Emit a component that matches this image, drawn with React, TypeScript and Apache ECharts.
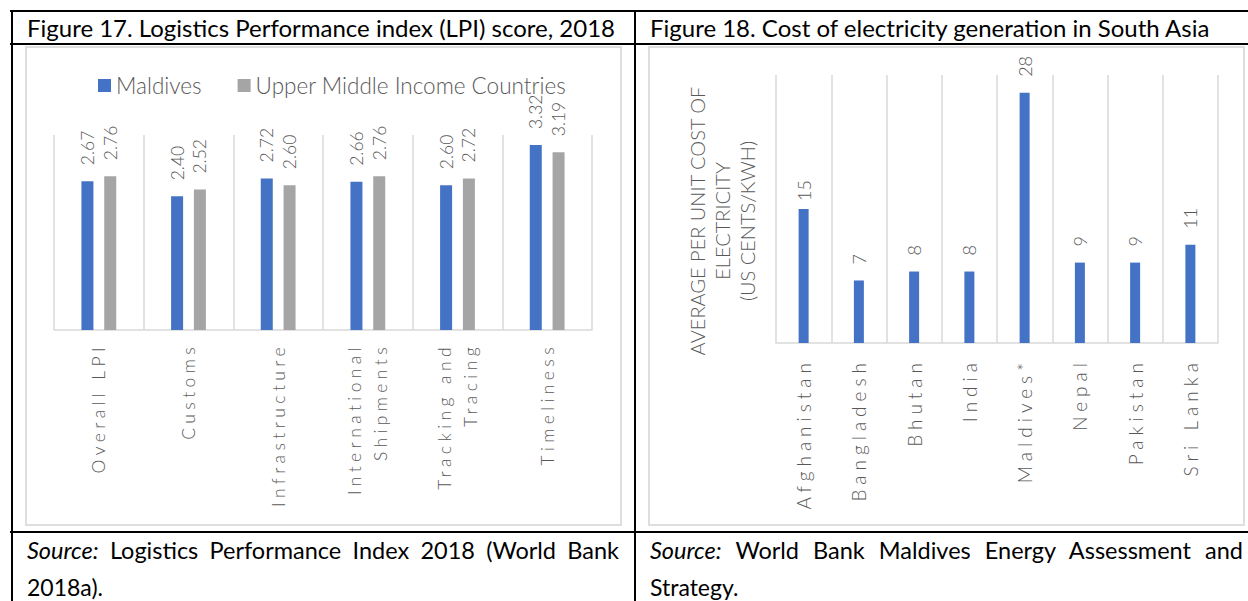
import React, { useEffect, useRef } from "react";
import * as echarts from "echarts";

// ---------- data ----------
const lpiCategories = [
  "Overall LPI",
  "Customs",
  "Infrastructure",
  "International\nShipments",
  "Tracking and\nTracing",
  "Timeliness",
];
const lpiSeriesNames = ["Maldives", "Upper Middle Income Countries"];
const maldivesLpi = [2.67, 2.4, 2.72, 2.66, 2.6, 3.32];
const umicLpi = [2.76, 2.52, 2.6, 2.76, 2.72, 3.19];

const countries = ["Afghanistan", "Bangladesh", "Bhutan", "India", "Maldives*", "Nepal", "Pakistan", "Sri Lanka"];
const electricityCost = [15, 7, 8, 8, 28, 9, 9, 11];
const costAxisTitle = "AVERAGE PER UNIT COST OF\nELECTRICITY\n(US CENTS/KWH)";

const title17 = "Figure 17. Logistics Performance index (LPI) score, 2018";
const title18 = "Figure 18. Cost of electricity generation in South Asia";
const source17 = ["Logistics Performance Index 2018 (World Bank", "2018a)."];
const source18 = ["World Bank Maldives Energy Assessment and", "Strategy."];

// ---------- style ----------
const FONT = "Lato, 'Open Sans', sans-serif";
const TEXT_GREY = "#595959";
const GRID_GREY = "#D9D9D9";
const BLUE = "#4472C4";
const GREY = "#A5A5A5";

function spaceLabels(chart: echarts.ECharts, labels: string[], spacing: number) {
  const dom = chart.getDom();
  dom.querySelectorAll("text").forEach((t) => {
    if (labels.includes((t.textContent || "").trim())) {
      t.setAttribute("letter-spacing", String(spacing));
    }
  });
}

function LpiChart() {
  const ref = useRef<HTMLDivElement>(null);
  useEffect(() => {
    if (!ref.current) return;
    const chart = echarts.init(ref.current, undefined, { renderer: "svg" });
    const labelFmt = (p: any) => Number(p.value).toFixed(2);
    const dataLabel = {
      show: true,
      position: "top" as const,
      rotate: 90,
      align: "left" as const,
      verticalAlign: "middle" as const,
      distance: 16,
      formatter: labelFmt,
      fontSize: 17.5,
      fontFamily: FONT,
      fontWeight: 300,
      color: TEXT_GREY,
    };
    chart.setOption({
      animation: false,
      textStyle: { fontFamily: FONT },
      legend: {
        data: lpiSeriesNames,
        left: 66,
        top: 21,
        icon: "rect",
        itemWidth: 13,
        itemHeight: 13,
        itemGap: 36,
        textStyle: { fontSize: 22.5, color: TEXT_GREY, fontFamily: FONT, fontWeight: 300 },
      },
      grid: { left: 27, top: 87, width: 538, height: 195, containLabel: false },
      xAxis: {
        type: "category",
        data: lpiCategories,
        axisLine: { lineStyle: { color: GRID_GREY, width: 1.5 } },
        axisTick: { show: false },
        splitLine: { show: true, interval: 0, lineStyle: { color: GRID_GREY, width: 1.5 } },
        axisLabel: {
          interval: 0,
          rotate: 90,
          margin: 13,
          fontSize: 17.5,
          lineHeight: 26,
          color: TEXT_GREY,
          fontFamily: FONT,
          fontWeight: 300,
        },
      },
      yAxis: { type: "value", min: 0, max: 3.5, show: false, splitLine: { show: false } },
      series: [
        {
          name: lpiSeriesNames[0],
          type: "bar",
          data: maldivesLpi,
          barWidth: 12,
          barGap: "90%",
          itemStyle: { color: BLUE },
          label: dataLabel,
        },
        {
          name: lpiSeriesNames[1],
          type: "bar",
          data: umicLpi,
          barWidth: 12,
          itemStyle: { color: GREY },
          label: dataLabel,
        },
      ],
    });
    const lines = lpiCategories.flatMap((c) => c.split("\n"));
    const apply = () => spaceLabels(chart, lines, 4.4);
    apply();
    chart.on("finished", apply);
    return () => chart.dispose();
  }, []);
  return <div ref={ref} style={{ width: "100%", height: "100%" }} />;
}

function CostChart() {
  const ref = useRef<HTMLDivElement>(null);
  useEffect(() => {
    if (!ref.current) return;
    const chart = echarts.init(ref.current, undefined, { renderer: "svg" });
    chart.setOption({
      animation: false,
      textStyle: { fontFamily: FONT },
      grid: { left: 126, top: 27, width: 442, height: 268, containLabel: false },
      xAxis: {
        type: "category",
        data: countries,
        axisLine: { lineStyle: { color: GRID_GREY, width: 1.5 } },
        axisTick: { show: false },
        splitLine: { show: true, interval: 0, lineStyle: { color: GRID_GREY, width: 1.5 } },
        axisLabel: {
          interval: 0,
          rotate: 90,
          margin: 15,
          fontSize: 19,
          color: TEXT_GREY,
          fontFamily: FONT,
          fontWeight: 300,
        },
      },
      yAxis: { type: "value", min: 0, max: 30, show: false, splitLine: { show: false } },
      graphic: [
        {
          type: "text",
          x: 72,
          y: 173,
          rotation: Math.PI / 2,
          style: {
            text: costAxisTitle,
            fontSize: 20,
            lineHeight: 25,
            fontFamily: FONT,
            fontWeight: 300,
            fill: TEXT_GREY,
            align: "center",
            verticalAlign: "middle",
          },
        },
      ],
      series: [
        {
          type: "bar",
          data: electricityCost.map((v, i) =>
            i === 0 ? { value: v, label: { distance: 8 } } : v
          ),
          barWidth: 10,
          itemStyle: { color: BLUE },
          label: {
            show: true,
            position: "top",
            rotate: 90,
            align: "left",
            verticalAlign: "middle",
            distance: 16,
            fontSize: 18,
            fontFamily: FONT,
            fontWeight: 300,
            color: TEXT_GREY,
          },
        },
      ],
    });
    const apply = () => spaceLabels(chart, countries, 5);
    apply();
    chart.on("finished", apply);
    return () => chart.dispose();
  }, []);
  return <div ref={ref} style={{ width: "100%", height: "100%" }} />;
}

const abs = (l: number, t: number, w: number, h: number, extra: React.CSSProperties = {}): React.CSSProperties => ({
  position: "absolute",
  left: l,
  top: t,
  width: w,
  height: h,
  ...extra,
});

function SourceBlock({ left, width, lines }: { left: number; width: number; lines: string[] }) {
  return (
    <>
      <div
        style={abs(left, 537, width, 26, {
          fontSize: 23.5,
          lineHeight: "26px",
          textAlign: "justify",
          textAlignLast: "justify",
          whiteSpace: "nowrap",
        } as React.CSSProperties)}
      >
        <i>Source:</i> {lines[0]}
      </div>
      <div style={abs(left, 575, width, 25, { fontSize: 23, lineHeight: "25px", whiteSpace: "nowrap" })}>{lines[1]}</div>
    </>
  );
}

export default function App() {
  const black = { background: "#000" };
  return (
    <div
      style={{
        position: "absolute",
        left: 0,
        top: 0,
        width: 1248,
        height: 601,
        overflow: "hidden",
        background: "#fff",
        fontFamily: FONT,
        color: "#000",
      }}
    >
      {/* table rules */}
      <div style={abs(10, 10, 1250, 2, black)} />
      <div style={abs(10, 43, 1250, 2, black)} />
      <div style={abs(10, 531, 1250, 2, black)} />
      <div style={abs(11, 10, 2, 600, black)} />
      <div style={abs(634, 10, 2, 600, black)} />

      {/* titles */}
      <div style={abs(27, 12, 605, 31, { fontSize: 24, lineHeight: "31px", whiteSpace: "nowrap" })}>{title17}</div>
      <div style={abs(650, 12, 598, 31, { fontSize: 24, lineHeight: "31px", whiteSpace: "nowrap" })}>{title18}</div>

      {/* charts */}
      <div style={abs(25, 46, 597, 480, { border: "2px solid #DEDEDE", boxSizing: "border-box" })}>
        <LpiChart />
      </div>
      <div style={abs(648, 46, 597, 480, { border: "2px solid #DEDEDE", boxSizing: "border-box" })}>
        <CostChart />
      </div>

      {/* sources */}
      <SourceBlock left={27} width={592} lines={source17} />
      <SourceBlock left={650} width={593} lines={source18} />
    </div>
  );
}
